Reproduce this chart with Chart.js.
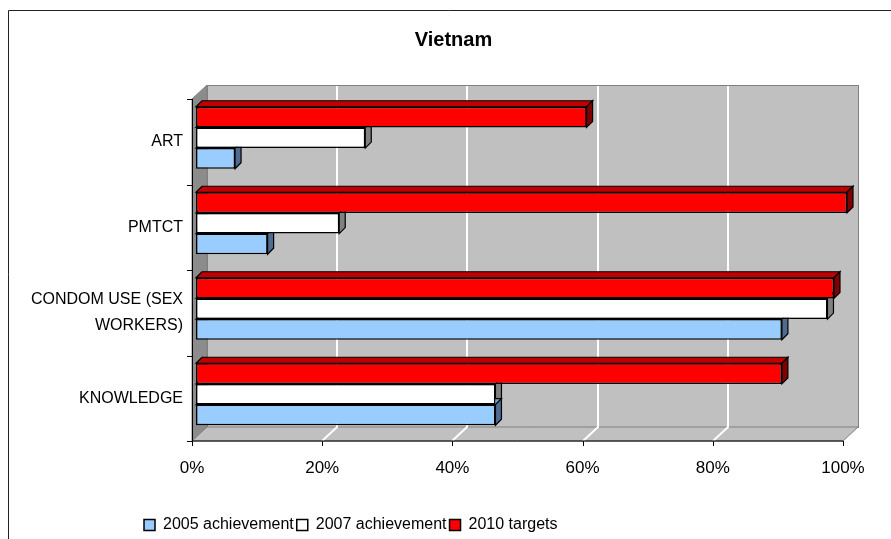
<!DOCTYPE html>
<html>
<head>
<meta charset="utf-8">
<script src="https://cdn.jsdelivr.net/npm/chart.js@4.4.0/dist/chart.umd.min.js"></script>
<style>
  html, body { margin: 0; padding: 0; background: #fff; }
  #wrap { width: 891px; height: 539px; position: relative; }
</style>
</head>
<body>
<div id="wrap"><canvas id="barChart"></canvas></div>
<script>
// data (percent)
const categories = ['ART', 'PMTCT', ['CONDOM USE (SEX', 'WORKERS)'], 'KNOWLEDGE'];
const achieved2005 = [6, 11, 90, 46];
const achieved2007 = [26, 22, 97, 46];
const targets2010 = [60, 100, 98, 90];
const xTickValues = [0, 20, 40, 60, 80, 100];

const FONT = "'Liberation Sans', Arial, sans-serif";

// colours for front / top / side faces
const faces = {
  '2010 targets': { front: '#FF0000', top: '#C00000', side: '#800000' },
  '2007 achievement': { front: '#FFFFFF', top: '#CCCCCC', side: '#808080' },
  '2005 achievement': { front: '#99CCFF', top: '#7AA3CC', side: '#4F6B8F' }
};

// fake excel 3d: walls, floor, gridlines and bar depth
const excel3d = {
  id: 'excel3d',
  beforeDraw(chart) {
    const ctx = chart.ctx;
    ctx.save();
    ctx.strokeStyle = '#222';
    ctx.lineWidth = 1;
    ctx.beginPath();
    ctx.moveTo(8.5, 539);
    ctx.lineTo(8.5, 10.5);
    ctx.lineTo(891, 10.5);
    ctx.stroke();
    ctx.restore();
  },
  afterLayout(chart) {
    // title and legend are not centred on the canvas in the original
    chart.titleBlock.left += 30;
    chart.titleBlock.right += 30;
    chart.legend.left += 141;
    chart.legend.right += 141;
    chart.legend.top += 7;
    chart.legend.bottom += 7;
  },
  beforeDatasetsDraw(chart) {
    const { ctx, chartArea: ca, scales } = chart;
    const xs = scales.x;
    const fx = v => xs.getPixelForValue(v) - 4;
    const topF = ca.top + 4, botF = ca.bottom + 4;
    const dx = 15, dy = 14;
    const x0 = fx(0), x100 = fx(100);

    ctx.save();
    ctx.lineWidth = 1;

    // back wall
    ctx.fillStyle = '#C0C0C0';
    ctx.strokeStyle = '#808080';
    ctx.fillRect(x0 + dx, topF - dy, x100 - x0, botF - topF);
    ctx.strokeRect(x0 + dx + 0.5, topF - dy + 0.5, x100 - x0, botF - topF);

    // left side wall
    ctx.fillStyle = '#8C8C8C';
    ctx.beginPath();
    ctx.moveTo(x0, topF);
    ctx.lineTo(x0 + dx, topF - dy);
    ctx.lineTo(x0 + dx, botF - dy);
    ctx.lineTo(x0, botF);
    ctx.closePath();
    ctx.fill();
    ctx.stroke();

    // floor
    ctx.fillStyle = '#C0C0C0';
    ctx.beginPath();
    ctx.moveTo(x0, botF);
    ctx.lineTo(x0 + dx, botF - dy);
    ctx.lineTo(x100 + dx, botF - dy);
    ctx.lineTo(x100, botF);
    ctx.closePath();
    ctx.fill();
    ctx.stroke();

    // white gridlines on wall and floor
    ctx.strokeStyle = '#FFFFFF';
    ctx.lineWidth = 2;
    xTickValues.slice(1, -1).forEach(v => {
      const px = Math.round(fx(v));
      ctx.beginPath();
      ctx.moveTo(px + dx, topF - dy + 1);
      ctx.lineTo(px + dx, botF - dy);
      ctx.lineTo(px, botF);
      ctx.stroke();
    });

    // axes
    ctx.strokeStyle = '#000';
    ctx.lineWidth = 1;
    ctx.beginPath();
    ctx.moveTo(Math.round(x0) + 0.5, topF);
    ctx.lineTo(Math.round(x0) + 0.5, botF);
    ctx.lineTo(x100, botF);
    ctx.stroke();
    const band = (ca.bottom - ca.top) / categories.length;
    ctx.beginPath();
    for (let i = 0; i <= categories.length; i++) {
      const py = Math.round(topF + i * band) + 0.5;
      ctx.moveTo(x0 - 5, py);
      ctx.lineTo(x0, py);
    }
    xTickValues.forEach(v => {
      const px = Math.round(fx(v)) + 0.5;
      ctx.moveTo(px, botF);
      ctx.lineTo(px, botF + 5);
    });
    ctx.stroke();

    // bar depth: top and right faces, fronts are drawn by chart.js over them
    const d = 6;
    chart.data.datasets.forEach((ds, di) => {
      const f = faces[ds.label];
      chart.getDatasetMeta(di).data.forEach(bar => {
        const { x, y, base, height } = bar.getProps(['x', 'y', 'base', 'height'], true);
        const t = y - height / 2, b = y + height / 2;
        ctx.strokeStyle = '#000';
        ctx.lineWidth = 1.2;
        ctx.fillStyle = f.top;
        ctx.beginPath();
        ctx.moveTo(base, t);
        ctx.lineTo(base + d, t - d);
        ctx.lineTo(x + d, t - d);
        ctx.lineTo(x, t);
        ctx.closePath();
        ctx.fill();
        ctx.stroke();
        ctx.fillStyle = f.side;
        ctx.beginPath();
        ctx.moveTo(x, t);
        ctx.lineTo(x + d, t - d);
        ctx.lineTo(x + d, b - d);
        ctx.lineTo(x, b);
        ctx.closePath();
        ctx.fill();
        ctx.stroke();
      });
    });
    ctx.restore();
  }
};

function makeSet(label, values) {
  return {
    label: label,
    data: values,
    backgroundColor: faces[label].front,
    borderColor: '#000',
    borderWidth: 1.5,
    borderSkipped: false,
    categoryPercentage: 0.725,
    barPercentage: 1
  };
}

new Chart(document.getElementById('barChart'), {
  type: 'bar',
  data: {
    labels: categories,
    datasets: [
      makeSet('2010 targets', targets2010),
      makeSet('2007 achievement', achieved2007),
      makeSet('2005 achievement', achieved2005)
    ]
  },
  options: {
    indexAxis: 'y',
    responsive: true,
    maintainAspectRatio: false,
    animation: false,
    devicePixelRatio: 1,
    layout: { padding: { left: 0, right: 44, top: 0, bottom: 3 } },
    plugins: {
      title: {
        display: true,
        text: 'Vietnam',
        color: '#000',
        font: { family: FONT, size: 20, weight: 'bold' },
        padding: { top: 28, bottom: 43 }
      },
      legend: {
        position: 'bottom',
        align: 'start',
        reverse: true,
        labels: {
          boxWidth: 11,
          boxHeight: 11,
          padding: 3,
          color: '#000',
          font: { family: FONT, size: 16 }
        }
      },
      tooltip: { enabled: false }
    },
    scales: {
      x: {
        min: 0,
        max: 100,
        afterBuildTicks: s => { s.ticks = xTickValues.map(v => ({ value: v })); },
        afterFit: s => { s.height = 70; },
        grid: { display: false, drawTicks: false },
        border: { display: false },
        ticks: {
          callback: v => v + '%',
          padding: 21,
          labelOffset: -4,
          maxRotation: 0,
          color: '#000',
          font: { family: FONT, size: 17 }
        }
      },
      y: {
        afterFit: s => { s.width = 196; },
        grid: { display: false, drawTicks: false },
        border: { display: false },
        ticks: {
          padding: 13,
          labelOffset: 4,
          autoSkip: false,
          color: '#000',
          font: { family: FONT, size: 16, lineHeight: 1.625 }
        }
      }
    }
  },
  plugins: [excel3d]
});
</script>
</body>
</html>
